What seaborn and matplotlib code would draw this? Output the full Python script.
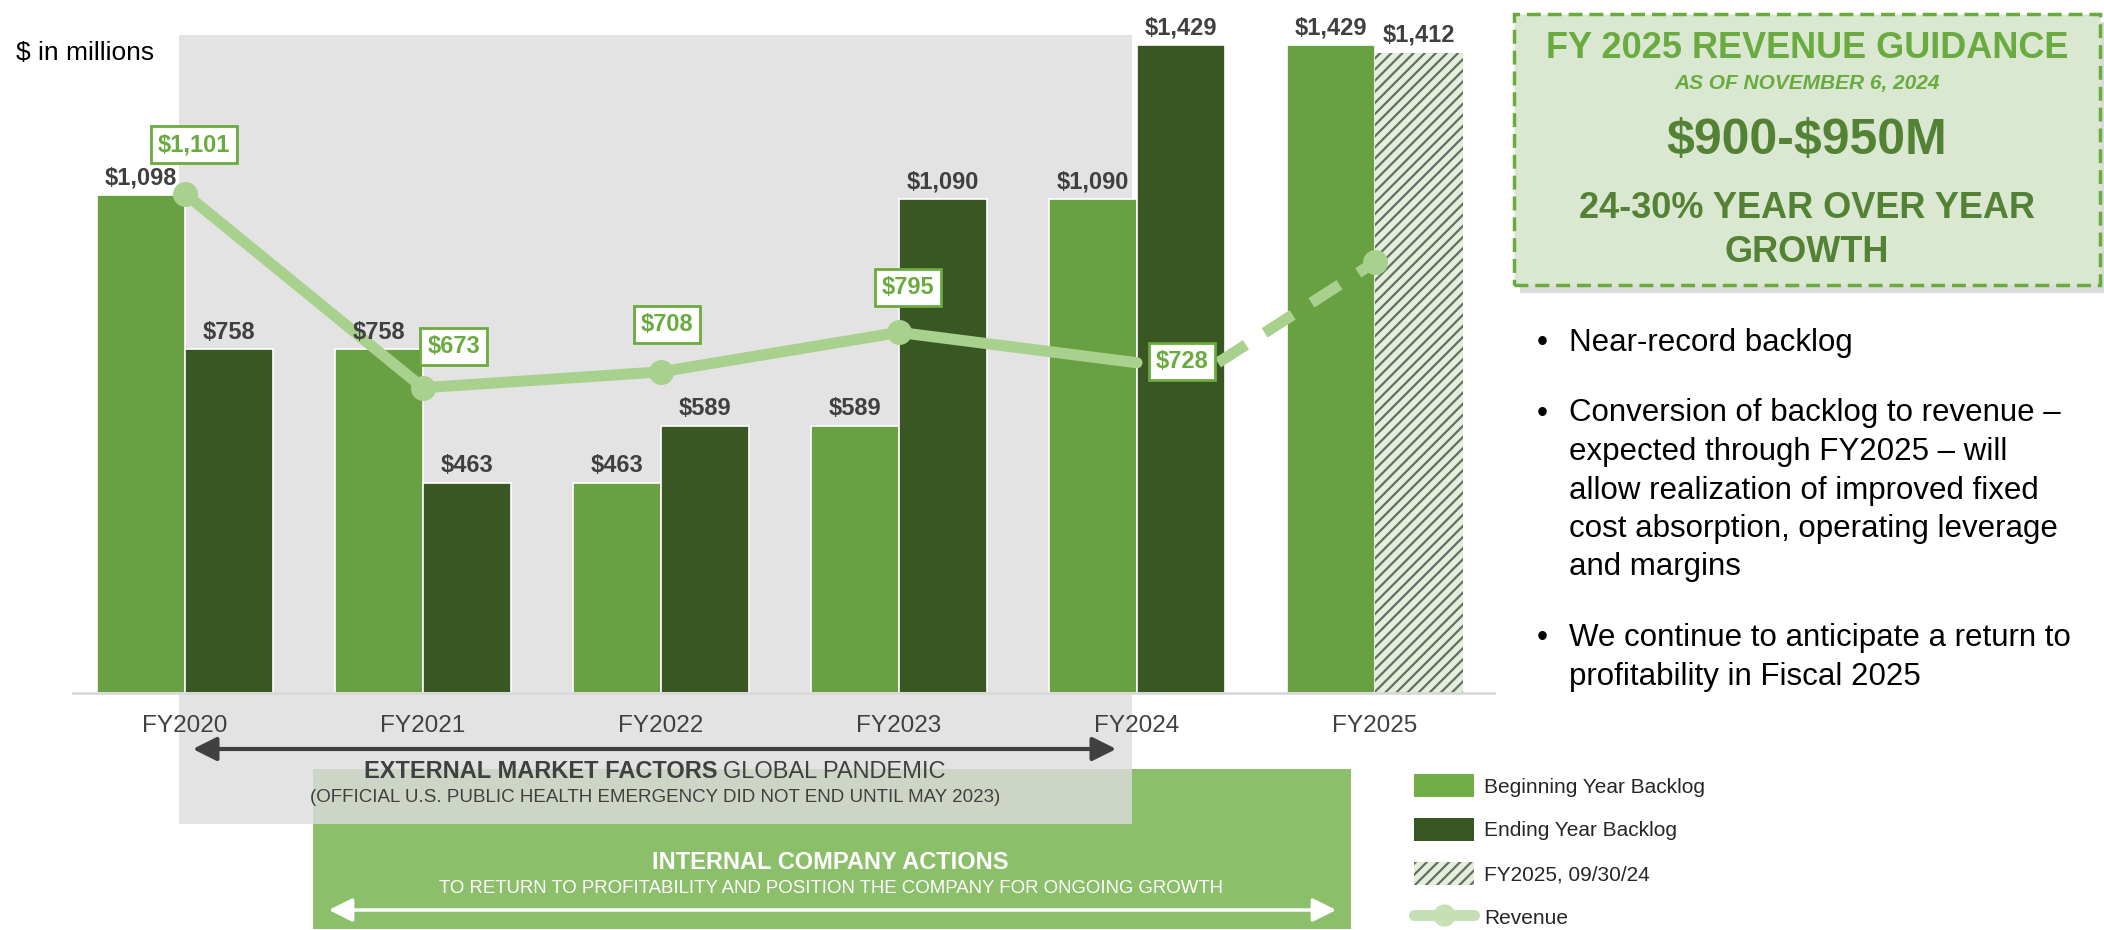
import pandas as pd
import matplotlib
matplotlib.use('Agg')
import matplotlib.pyplot as plt
import seaborn as sns
from matplotlib.patches import Rectangle, Patch, FancyArrowPatch
from matplotlib.lines import Line2D

# --- Data ---
years = ['FY2020', 'FY2021', 'FY2022', 'FY2023', 'FY2024', 'FY2025']
begin_backlog = [1098, 758, 463, 589, 1090, 1429]
end_backlog = [758, 463, 589, 1090, 1429, 1412]   # FY2025 value is backlog at 09/30/24
revenue = [1101, 673, 708, 795, 728]               # FY2020..FY2024
revenue_fy2025 = 950                               # guidance point (dashed)

bullets = [
    ['Near-record backlog'],
    ['Conversion of backlog to revenue \u2013',
     'expected through FY2025 \u2013 will',
     'allow realization of improved fixed',
     'cost absorption, operating leverage',
     'and margins'],
    ['We continue to anticipate a return to',
     'profitability in Fiscal 2025'],
]

# --- Colours ---
C_BEGIN = '#69a142'
C_END = '#385723'
C_REV = '#a9d18e'
C_GREEN_TXT = '#6aab3f'
C_DARK_GREEN = '#548235'
C_GRAY_TXT = '#404040'
C_HATCH = '#6a6a6a'
C_HATCH_BG = '#e2f0d9'

W, H = 2104, 930


def fx(px):
    return px / W


def fy(py):
    return 1 - py / H


sns.set_theme(style='white')
plt.rcParams['font.family'] = ['Liberation Sans', 'DejaVu Sans']
plt.rcParams['hatch.linewidth'] = 1.6

df = pd.DataFrame({
    'year': years * 2,
    'series': ['Beginning'] * len(years) + ['Ending'] * len(years),
    'value': begin_backlog + end_backlog,
})

fig = plt.figure(figsize=(W / 100, H / 100), dpi=100)
fig.patch.set_facecolor('white')

# background boxes (figure level, behind the axes)
fig.add_artist(Rectangle((fx(313), fy(929)), fx(1351) - fx(313), fy(769) - fy(929),
                         transform=fig.transFigure, facecolor='#8cbf6a', edgecolor='none', zorder=-3))
fig.add_artist(Rectangle((fx(179), fy(824)), fx(1132) - fx(179), fy(35) - fy(824),
                         transform=fig.transFigure, facecolor='#dedcde', alpha=0.8,
                         edgecolor='none', zorder=-2))

ax = fig.add_axes([fx(73), 1 - 693 / H, fx(1494) - fx(73), 1520 * 0.4536 / H])
ax.set_facecolor('none')

sns.barplot(data=df, x='year', y='value', hue='series', order=years,
            palette=[C_BEGIN, C_END], saturation=1, width=0.74, dodge=True, legend=False,
            edgecolor='white', linewidth=1.2, ax=ax, zorder=2)

# hatched FY2025 bar
hb = ax.containers[1][5]
hb.set_facecolor(C_HATCH_BG)
hb.set_edgecolor(C_HATCH)
hb.set_linewidth(0)
hb.set_hatch('///')

for cont, vals in zip(ax.containers, [begin_backlog, end_backlog]):
    txts = ax.bar_label(cont, labels=[f'${v:,}' for v in vals], padding=4,
                        fontsize=17, fontweight='bold', color=C_GRAY_TXT)
    for t in txts:
        t.set_zorder(5)

# revenue line (last point sits under its label box, no marker)
xs = list(range(len(revenue)))
ax.plot(xs, revenue, color=C_REV, lw=8, marker='o', markersize=17,
        markevery=list(range(len(revenue) - 1)), solid_capstyle='round', zorder=4)
# dashed projection starts at the right edge of the FY2024 label box
ax.plot([xs[-1] + 0.34, len(revenue)], [revenue[-1], revenue_fy2025], color=C_REV, lw=8,
        dashes=(3, 2), dash_capstyle='butt', zorder=4)
ax.plot([len(revenue)], [revenue_fy2025], 'o', color=C_REV, markersize=17, zorder=4)

label_offsets = [(9, 49), (31, 41), (6, 47), (9, 45), (45, 1)]
for x, v, off in zip(xs, revenue, label_offsets):
    ax.annotate(f'${v:,}', (x, v), xytext=off, textcoords='offset pixels',
                ha='center', va='center', fontsize=17, fontweight='bold', color=C_GREEN_TXT,
                bbox=dict(boxstyle='square,pad=0.3', facecolor='white', edgecolor=C_GREEN_TXT, lw=2),
                zorder=6)

ax.set_xlim(-0.47, 5.5)
ax.set_ylim(0, 1520)
ax.set_xlabel('')
ax.set_ylabel('')
ax.set_yticks([])
for s in ['left', 'right', 'top']:
    ax.spines[s].set_visible(False)
ax.spines['bottom'].set_color('#d9d9d9')
ax.spines['bottom'].set_linewidth(2)
ax.tick_params(axis='x', length=0, pad=16, labelsize=17.5, labelcolor=C_GRAY_TXT)

fig.text(fx(16), fy(53), '$ in millions', fontsize=19, color='black', ha='left', va='center')

# external market factors
fig.add_artist(FancyArrowPatch((fx(190), fy(749)), (fx(1119), fy(749)), transform=fig.transFigure,
                               arrowstyle='<|-|>,head_length=0.8,head_width=0.4', mutation_scale=18,
                               lw=3, color=C_GRAY_TXT))
fig.text(fx(717), fy(772), 'EXTERNAL MARKET FACTORS', fontsize=17, fontweight='bold',
         color=C_GRAY_TXT, ha='right', va='center')
fig.text(fx(723), fy(772), 'GLOBAL PANDEMIC', fontsize=17, color=C_GRAY_TXT, ha='left', va='center')
fig.text(fx(655), fy(798), '(OFFICIAL U.S. PUBLIC HEALTH EMERGENCY DID NOT END UNTIL MAY 2023)',
         fontsize=13.5, color=C_GRAY_TXT, ha='center', va='center')

# internal company actions
fig.text(fx(830), fy(862), 'INTERNAL COMPANY ACTIONS', fontsize=17, fontweight='bold',
         color='white', ha='center', va='center')
fig.text(fx(831), fy(888), 'TO RETURN TO PROFITABILITY AND POSITION THE COMPANY FOR ONGOING GROWTH',
         fontsize=13.4, color='white', ha='center', va='center')
fig.add_artist(FancyArrowPatch((fx(326), fy(910)), (fx(1339), fy(910)), transform=fig.transFigure,
                               arrowstyle='<|-|>,head_length=0.8,head_width=0.4', mutation_scale=18,
                               lw=2.5, color='white'))

# guidance box
fig.add_artist(Rectangle((fx(1520), fy(293)), fx(2100) - fx(1514), fy(14) - fy(285),
                         transform=fig.transFigure, facecolor='#9a9a9a', alpha=0.35,
                         edgecolor='none', zorder=1))
fig.add_artist(Rectangle((fx(1514), fy(285)), fx(2100) - fx(1514), fy(14) - fy(285),
                         transform=fig.transFigure, facecolor='#dae7d1', edgecolor=C_GREEN_TXT,
                         lw=2.5, linestyle=(0, (4, 2)), zorder=2))
cx = fx(1807)
fig.text(cx, fy(49), 'FY 2025 REVENUE GUIDANCE', fontsize=26, fontweight='bold',
         color=C_GREEN_TXT, ha='center', va='center', zorder=3)
fig.text(cx, fy(83), 'AS OF NOVEMBER 6, 2024', fontsize=15, fontweight='bold', style='italic',
         color=C_GREEN_TXT, ha='center', va='center', zorder=3)
fig.text(cx, fy(141), '$900-$950M', fontsize=36, fontweight='bold', parse_math=False,
         color=C_DARK_GREEN, ha='center', va='center', zorder=3)
fig.text(cx, fy(208), '24-30% YEAR OVER YEAR', fontsize=26, fontweight='bold',
         color=C_DARK_GREEN, ha='center', va='center', zorder=3)
fig.text(cx, fy(252), 'GROWTH', fontsize=26, fontweight='bold',
         color=C_DARK_GREEN, ha='center', va='center', zorder=3)

# bullets
y = 343
for group in bullets:
    fig.text(fx(1537), fy(y), '\u2022', fontsize=22.5, color='black', ha='left', va='center')
    for line in group:
        fig.text(fx(1569), fy(y), line, fontsize=22.5, color='black', ha='left', va='center')
        y += 38.5
    y += 32

# legend
handles = [
    Patch(facecolor='#70ad47', edgecolor='none'),
    Patch(facecolor=C_END, edgecolor='none'),
    Patch(facecolor=C_HATCH_BG, edgecolor=C_HATCH, hatch='///', lw=0),
    Line2D([0], [0], color='#c5e0b4', lw=8, marker='o', markersize=15),
]
labels = ['Beginning Year Backlog', 'Ending Year Backlog', 'FY2025, 09/30/24', 'Revenue']
fig.legend(handles, labels, loc='upper left', bbox_to_anchor=(fx(1414), fy(774)),
           frameon=False, fontsize=15, handlelength=2.9, handleheight=1.35,
           labelspacing=0.98, handletextpad=0.45, borderpad=0, borderaxespad=0)

fig.savefig('out.png', dpi=100)
